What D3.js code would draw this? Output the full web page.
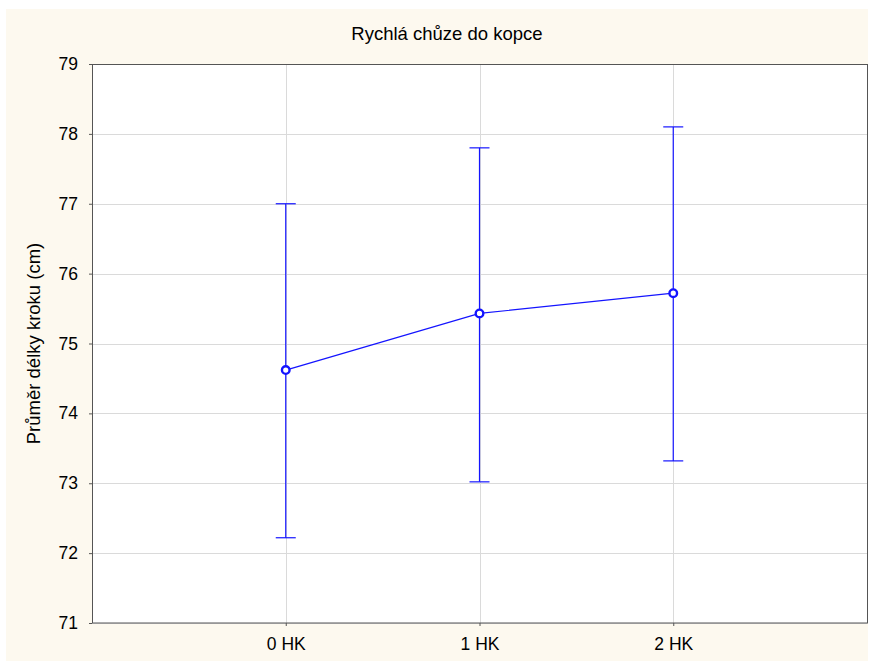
<!DOCTYPE html>
<html>
<head>
<meta charset="utf-8">
<script src="https://cdn.jsdelivr.net/npm/d3@7"></script>
<style>
  html, body { margin: 0; padding: 0; background: #ffffff; }
  svg { display: block; }
  text { font-family: "Liberation Sans", Arial, sans-serif; fill: #000; }
</style>
</head>
<body>
<svg id="chart" width="874" height="668"></svg>
<script>
// Mean step length per group with confidence interval bounds
const categories = ["0 HK", "1 HK", "2 HK"];
const means = [74.62, 75.43, 75.72];
const lower = [72.22, 73.02, 73.32];
const upper = [77.00, 77.80, 78.10];
const yTicks = [71, 72, 73, 74, 75, 76, 77, 78, 79];

const title = "Rychlá chůze do kopce";
const yLabel = "Průměr délky kroku (cm)";

const W = 874, H = 668;
const margin = { top: 64, right: 7, bottom: 45, left: 92 };
const innerW = W - margin.left - margin.right;
const innerH = H - margin.top - margin.bottom;

const svg = d3.select("#chart");

// Cream page background
svg.append("rect")
  .attr("x", 6).attr("y", 9)
  .attr("width", 862).attr("height", 652)
  .attr("fill", "#fdf9ef");

const g = svg.append("g").attr("transform", `translate(${margin.left},${margin.top})`);

// Plot area
g.append("rect").attr("width", innerW).attr("height", innerH).attr("fill", "#ffffff");

const x = d3.scalePoint().domain(categories).range([0, innerW]).padding(1);
const y = d3.scaleLinear().domain([71, 79]).range([innerH, 0]);

// Gridlines
g.append("g").selectAll("line.h").data(yTicks).join("line")
  .attr("x1", 0).attr("x2", innerW)
  .attr("y1", d => Math.round(y(d)) + 0.5).attr("y2", d => Math.round(y(d)) + 0.5)
  .attr("stroke", "#dadada").attr("stroke-width", 1);
g.append("g").selectAll("line.v").data(categories).join("line")
  .attr("y1", 0).attr("y2", innerH)
  .attr("x1", d => Math.round(x(d)) + 0.5).attr("x2", d => Math.round(x(d)) + 0.5)
  .attr("stroke", "#dadada").attr("stroke-width", 1);

// Axes
const yAxis = g.append("g")
  .call(d3.axisLeft(y).tickValues(yTicks).tickSize(3).tickPadding(11).tickFormat(d3.format("d")));
const xAxis = g.append("g").attr("transform", `translate(0,${innerH})`)
  .call(d3.axisBottom(x).tickSize(3).tickPadding(12));
[yAxis, xAxis].forEach(a => {
  a.select(".domain").remove();
  a.selectAll(".tick line").attr("stroke", "#555");
  a.selectAll(".tick text").attr("font-size", 17.5).attr("fill", "#000")
    .style("font-family", "'Liberation Sans', Arial, sans-serif");
});

// Frame
g.append("rect")
  .attr("x", 0.5).attr("y", 0.5).attr("width", innerW).attr("height", innerH - 0.5)
  .attr("fill", "none").attr("stroke", "#555").attr("stroke-width", 1);

const blue = "#1414ff";
const cap = 10;

// Error bars
const bars = g.append("g").selectAll("g").data(categories).join("g");
bars.append("line")
  .attr("x1", d => x(d)).attr("x2", d => x(d))
  .attr("y1", (d, i) => y(upper[i])).attr("y2", (d, i) => y(lower[i]))
  .attr("stroke", blue).attr("stroke-width", 1.2);
bars.append("line")
  .attr("x1", d => x(d) - cap).attr("x2", d => x(d) + cap)
  .attr("y1", (d, i) => y(upper[i])).attr("y2", (d, i) => y(upper[i]))
  .attr("stroke", blue).attr("stroke-width", 1.2);
bars.append("line")
  .attr("x1", d => x(d) - cap).attr("x2", d => x(d) + cap)
  .attr("y1", (d, i) => y(lower[i])).attr("y2", (d, i) => y(lower[i]))
  .attr("stroke", blue).attr("stroke-width", 1.2);

// Mean line
const line = d3.line().x((d, i) => x(categories[i])).y(d => y(d));
g.append("path").datum(means)
  .attr("d", line).attr("fill", "none")
  .attr("stroke", blue).attr("stroke-width", 1.2);

// Mean markers
g.append("g").selectAll("circle").data(means).join("circle")
  .attr("cx", (d, i) => x(categories[i])).attr("cy", d => y(d))
  .attr("r", 3.8).attr("fill", "#ffffff")
  .attr("stroke", blue).attr("stroke-width", 2.4);

// Title
svg.append("text")
  .attr("x", 447).attr("y", 40)
  .attr("text-anchor", "middle").attr("font-size", 18.5)
  .text(title);

// Y axis label
svg.append("text")
  .attr("transform", `translate(40,${margin.top + innerH / 2}) rotate(-90)`)
  .attr("text-anchor", "middle").attr("font-size", 18.5)
  .text(yLabel);
</script>
</body>
</html>
